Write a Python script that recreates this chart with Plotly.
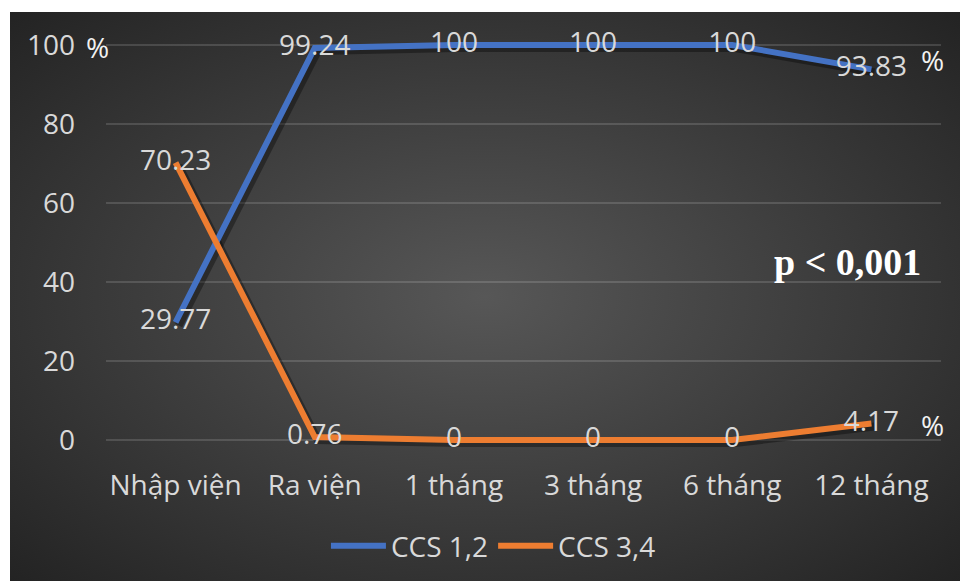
import base64
import plotly.graph_objects as go

# Time points and CCS class shares (%)
categories = ["Nhập viện", "Ra viện", "1 tháng", "3 tháng", "6 tháng", "12 tháng"]
ccs_12 = [29.77, 99.24, 100, 100, 100, 93.83]
ccs_34 = [70.23, 0.76, 0, 0, 0, 4.17]
label_12 = ["29.77", "99.24", "100", "100", "100", "93.83"]
label_34 = ["70.23", "0.76", "0", "0", "0", "4.17"]
y_ticks = [0, 20, 40, 60, 80, 100]

BLUE = "#4472C4"
ORANGE = "#ED7D31"
TXT = "#D9D9D9"
FONT = "Open Sans"
FS = 28

W, H = 960, 581
L, R, T, B = 106, 941, 30, 460          # plot area in pixels
px_per_unit = 3.95
y_lo = -(B - 440) / px_per_unit
y_hi = y_lo + (B - T) / px_per_unit

x_idx = list(range(len(categories)))

fig = go.Figure()

# soft drop shadows under the lines
dx = 3 / ((R - L) / 6)
dy = 3 / px_per_unit
for ys in (ccs_12, ccs_34):
    fig.add_trace(go.Scatter(
        x=[i + dx for i in x_idx], y=[v - dy for v in ys], mode="lines",
        line=dict(color="rgba(0,0,0,0.35)", width=8), hoverinfo="skip", showlegend=False))

fig.add_trace(go.Scatter(x=x_idx, y=ccs_12, mode="lines", name="CCS 1,2",
                         line=dict(color=BLUE, width=6)))
fig.add_trace(go.Scatter(x=x_idx, y=ccs_34, mode="lines", name="CCS 3,4",
                         line=dict(color=ORANGE, width=6)))

# value labels centred on each point
for ys, labels in ((ccs_12, label_12), (ccs_34, label_34)):
    fig.add_trace(go.Scatter(x=x_idx, y=ys, mode="text", text=labels,
                             textposition="middle center",
                             textfont=dict(family=FONT, size=FS, color=TXT),
                             hoverinfo="skip", showlegend=False))

# radial gradient backdrop
svg = (
    f'<svg xmlns="http://www.w3.org/2000/svg" width="950" height="569">'
    '<defs><radialGradient id="g" cx="50%" cy="50%" r="75%">'
    '<stop offset="0%" stop-color="#575757"/>'
    '<stop offset="100%" stop-color="#202020"/>'
    '</radialGradient></defs>'
    '<rect width="950" height="569" fill="url(#g)"/></svg>'
)
src = "data:image/svg+xml;base64," + base64.b64encode(svg.encode()).decode()
pw, ph = R - L, B - T
fig.add_layout_image(dict(
    source=src, xref="paper", yref="paper",
    x=(10 - L) / pw, y=(B - 12) / ph, sizex=950 / pw, sizey=569 / ph,
    xanchor="left", yanchor="top", sizing="stretch", layer="below"))

def px_to_paper(xp, yp):
    return (xp - L) / pw, (B - yp) / ph

for xp, yp, txt in ((97, 47, "%"), (932, 60, "%"), (932, 425, "%")):
    ax, ay = px_to_paper(xp, yp)
    fig.add_annotation(x=ax, y=ay, xref="paper", yref="paper", text=txt,
                       xanchor="center", yanchor="middle", showarrow=False,
                       font=dict(family=FONT, size=FS, color="#F2F2F2"))

ax, ay = px_to_paper(847, 262)
fig.add_annotation(x=ax, y=ay, xref="paper", yref="paper", text="<b>p < 0,001</b>",
                   xanchor="center", yanchor="middle", showarrow=False,
                   font=dict(family="Liberation Serif", size=38, color="#FFFFFF"))

fig.update_layout(
    width=W, height=H,
    margin=dict(l=L, r=W - R, t=T, b=H - B),
    paper_bgcolor="#FFFFFF", plot_bgcolor="rgba(0,0,0,0)",
    font=dict(family=FONT, size=FS, color=TXT),
    showlegend=True,
    legend=dict(orientation="h", xref="container", yref="container",
                x=0.514, y=1 - 546 / H, xanchor="center", yanchor="middle",
                font=dict(family=FONT, size=FS, color=TXT),
                bgcolor="rgba(0,0,0,0)", itemwidth=55),
    xaxis=dict(range=[-0.5, 5.5], tickmode="array", tickvals=x_idx, ticktext=categories,
               showgrid=False, zeroline=False, showline=False, ticks="",
               ticklabelstandoff=6, tickfont=dict(family=FONT, size=FS, color=TXT)),
    yaxis=dict(range=[y_lo, y_hi], tickmode="array", tickvals=y_ticks,
               showgrid=True, gridcolor="rgba(255,255,255,0.14)", gridwidth=2,
               zeroline=False, showline=False, ticks="", ticklabelstandoff=30,
               tickfont=dict(family=FONT, size=FS, color=TXT)),
)

fig.write_html("out.html")
